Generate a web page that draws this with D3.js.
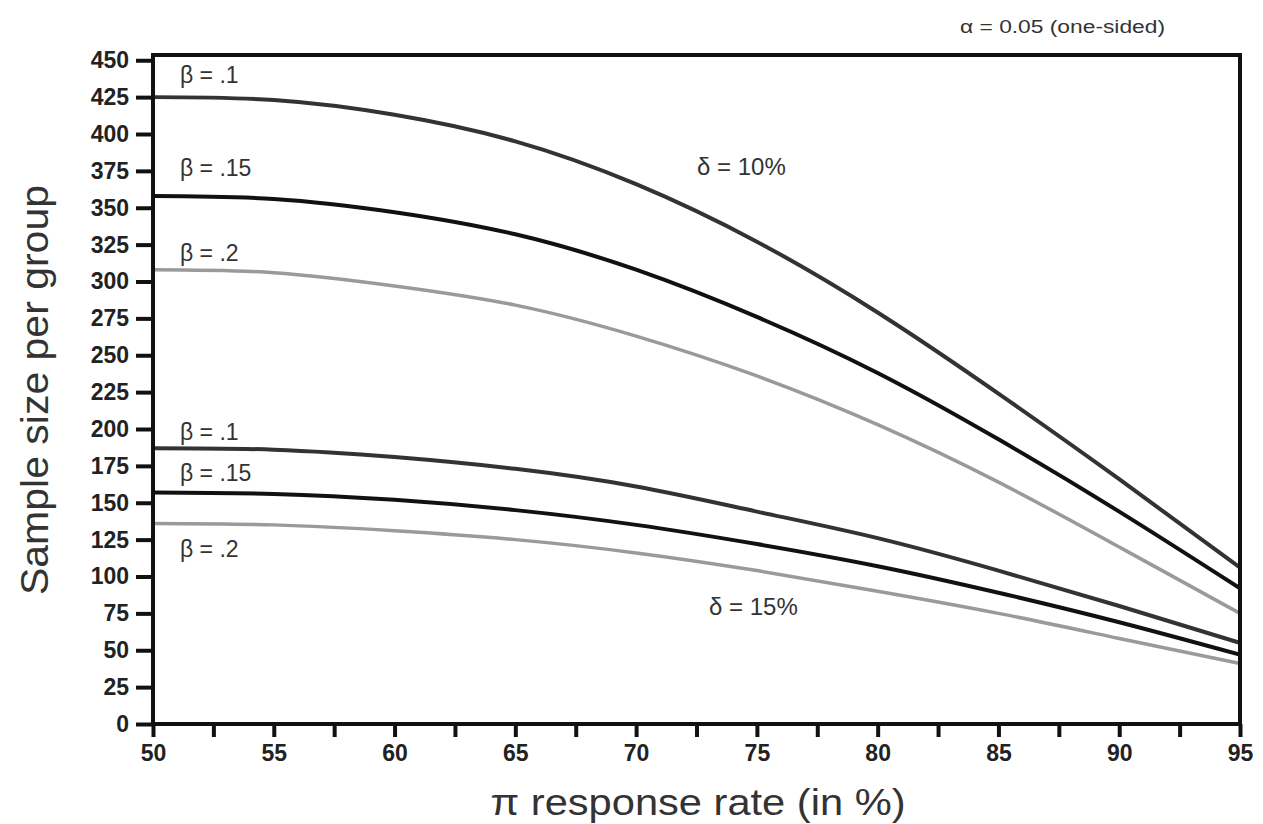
<!DOCTYPE html>
<html>
<head>
<meta charset="utf-8">
<script src="https://cdn.jsdelivr.net/npm/d3@7"></script>
<style>
  body { margin: 0; background: #fff; }
  text { font-family: "Liberation Sans", Arial, sans-serif; }
</style>
</head>
<body>
<div id="root"></div>
<script>
const SVG_WIDTH = 1263;
const SVG_HEIGHT = 824;

// response rate (%)
const rates = [50, 55, 60, 65, 70, 75, 80, 85, 90, 95];
// delta = 10%
const d10b10 = [425, 423, 413, 395, 366, 327, 279, 224, 166, 106];
const d10b15 = [358, 356, 347, 332, 308, 276, 238, 193, 144, 92];
const d10b20 = [308, 306, 297, 284, 263, 236, 203, 164, 120, 75];
// delta = 15%
const d15b10 = [187, 186, 181, 173, 161, 144, 126, 104, 80, 55];
const d15b15 = [157, 156, 152, 145, 135, 122, 107, 89, 69, 47];
const d15b20 = [136, 135, 131, 125, 116, 104, 90, 75, 58, 41];

const xTicks = [50, 52.5, 55, 57.5, 60, 62.5, 65, 67.5, 70, 72.5, 75, 77.5, 80, 82.5, 85, 87.5, 90, 92.5, 95];
const xLabels = [50, 55, 60, 65, 70, 75, 80, 85, 90, 95];
const yTicks = d3.range(0, 451, 25);

const series = [
  { name: 'β = .1', values: d10b10, color: '#333', width: 4, lx: 180, ly: 83 },
  { name: 'β = .15', values: d10b15, color: '#111', width: 4, lx: 180, ly: 176 },
  { name: 'β = .2', values: d10b20, color: '#9a9a9a', width: 3.5, lx: 180, ly: 261 },
  { name: 'β = .1', values: d15b10, color: '#333', width: 4, lx: 180, ly: 440 },
  { name: 'β = .15', values: d15b15, color: '#111', width: 4, lx: 180, ly: 481 },
  { name: 'β = .2', values: d15b20, color: '#9a9a9a', width: 3.5, lx: 180, ly: 557 },
];

const LEFT = 153;
const RIGHT = 1240;
const BOTTOM = 724;
const TOP = 55;

const xScale = d3.scaleLinear().domain([50, 95]).range([LEFT, RIGHT]);
const yScale = d3.scaleLinear().domain([0, 450]).range([BOTTOM, 60.25]);

/**
 * svg container
 */
function addSvg() {
  const svg = document.createElementNS('http://www.w3.org/2000/svg', 'svg');
  svg.id = 'svg';
  svg.setAttribute('width', SVG_WIDTH);
  svg.setAttribute('height', SVG_HEIGHT);
  return svg;
}

/**
 * curves
 */
function drawLines() {
  const svg = d3.select('#svg');
  const line = d3
    .line()
    .x((d, i) => xScale(rates[i]))
    .y((d) => yScale(d))
    .curve(d3.curveNatural);
  const g = svg.append('g');
  series.forEach((s) => {
    g.append('path')
      .attr('d', line(s.values))
      .attr('fill', 'none')
      .attr('stroke', s.color)
      .attr('stroke-width', s.width);
    g.append('text')
      .attr('x', s.lx)
      .attr('y', s.ly)
      .attr('font-size', 23)
      .attr('fill', '#333')
      .text(s.name);
  });
}

/**
 * axes and frame
 */
function drawAxes() {
  const svg = d3.select('#svg');

  const yAxis = d3.axisLeft(yScale).tickValues(yTicks).tickSize(17).tickPadding(7);
  const gy = svg.append('g').attr('transform', `translate(${LEFT},0)`).call(yAxis);
  gy.select('.domain').remove();
  gy.selectAll('line').attr('stroke', '#111').attr('stroke-width', 4);
  gy.selectAll('text')
    .attr('font-family', '"Liberation Sans", Arial, sans-serif')
    .attr('font-size', 23)
    .attr('font-weight', 'bold')
    .attr('fill', '#222');

  const xAxis = d3
    .axisBottom(xScale)
    .tickValues(xTicks)
    .tickSize(13)
    .tickPadding(8)
    .tickFormat((d) => (xLabels.includes(d) ? d : ''));
  const gx = svg.append('g').attr('transform', `translate(0,${BOTTOM})`).call(xAxis);
  gx.select('.domain').remove();
  gx.selectAll('line').attr('stroke', '#111').attr('stroke-width', 4);
  gx.selectAll('text')
    .attr('font-family', '"Liberation Sans", Arial, sans-serif')
    .attr('font-size', 23)
    .attr('font-weight', 'bold')
    .attr('fill', '#222');

  svg
    .append('rect')
    .attr('x', LEFT)
    .attr('y', TOP)
    .attr('width', RIGHT - LEFT)
    .attr('height', BOTTOM - TOP)
    .attr('fill', 'none')
    .attr('stroke', '#111')
    .attr('stroke-width', 4);
}

/**
 * titles and notes
 */
function drawTexts() {
  const svg = d3.select('#svg');
  svg
    .append('text')
    .attr('transform', `translate(48,390) rotate(-90)`)
    .attr('text-anchor', 'middle')
    .attr('font-size', 38)
    .attr('fill', '#333')
    .attr('textLength', 410)
    .attr('lengthAdjust', 'spacingAndGlyphs')
    .text('Sample size per group');

  svg
    .append('text')
    .attr('x', 698)
    .attr('y', 815)
    .attr('text-anchor', 'middle')
    .attr('font-size', 36)
    .attr('fill', '#333')
    .attr('textLength', 415)
    .attr('lengthAdjust', 'spacingAndGlyphs')
    .text('π response rate (in %)');

  svg
    .append('text')
    .attr('x', 960)
    .attr('y', 33)
    .attr('font-size', 18)
    .attr('fill', '#333')
    .attr('textLength', 205)
    .attr('lengthAdjust', 'spacingAndGlyphs')
    .text('α = 0.05 (one-sided)');

  svg.append('text').attr('x', 697).attr('y', 175).attr('font-size', 24).attr('fill', '#333').text('δ = 10%');
  svg.append('text').attr('x', 709).attr('y', 615).attr('font-size', 24).attr('fill', '#333').text('δ = 15%');
}

function main() {
  drawLines();
  drawAxes();
  drawTexts();
}

const root = document.getElementById('root');
root.appendChild(addSvg());
main();
</script>
</body>
</html>
